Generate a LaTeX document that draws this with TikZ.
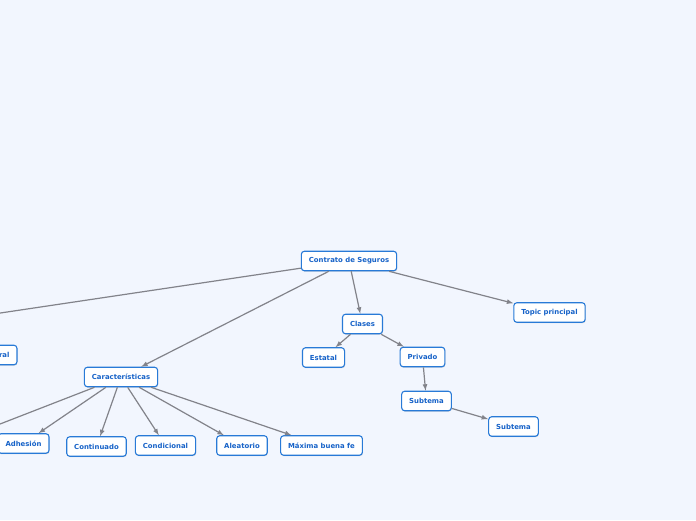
\documentclass[tikz,border=0pt]{standalone}
\usepackage{tikz}
\usepackage{fontspec}
\setsansfont{DejaVu Sans}
\usetikzlibrary{shapes,arrows,positioning,shadows}
\definecolor{mapbg}{RGB}{242,246,254}
\definecolor{topicline}{RGB}{40,122,215}
\definecolor{topictext}{RGB}{22,98,200}
\definecolor{branch}{RGB}{130,131,138}

\begin{document}
\begin{tikzpicture}[
    x=1pt, y=-1pt,
    topic/.style={rectangle, draw=topicline, line width=1.1pt, fill=white,
        rounded corners=3pt, text=topictext, minimum height=19.5pt,
        inner xsep=7.5pt, inner ysep=0pt,
        font=\sffamily\bfseries\fontsize{6.9}{8}\selectfont,
        drop shadow={shadow xshift=0.5pt, shadow yshift=-0.9pt, opacity=0.3}},
    edge/.style={-latex, line width=1.2pt, branch},
    stub/.style={-, line width=1.2pt, branch},
]

% Canvas
\useasboundingbox (0,0) rectangle (696,520);
\fill[mapbg] (0,0) rectangle (696,520);
\clip (0,0) rectangle (696,520);

% Central topic
\node[topic] (contrato) at (349,261) {Contrato de Seguros};

% Clases branch
\begin{scope}
    \node[topic] (clases) at (362.5,324) {Clases};
    \node[topic] (estatal) at (323.5,357.5) {Estatal};
    \node[topic] (privado) at (422.5,357) {Privado};
    \node[topic] (subtemaA) at (426.5,401) {Subtema};
    \node[topic] (subtemaB) at (513.5,426.5) {Subtema};

    \draw[edge] (contrato) -- (clases);
    \draw[edge] (clases) -- (estatal);
    \draw[edge] (clases) -- (privado);
    \draw[edge] (privado) -- (subtemaA);
    \draw[edge] (subtemaA) -- (subtemaB);
\end{scope}

% Topic principal
\node[topic] (principal) at (549.5,312.5) {Topic principal};
\draw[edge] (contrato) -- (principal);

% Caracteristicas branch
\begin{scope}
    \node[topic] (caract) at (121,377) {Características};
    \node[topic] (adhesion) at (23.5,443.5) {Adhesión};
    \node[topic] (continuado) at (96.5,446.5) {Continuado};
    \node[topic] (condicional) at (165.5,445.5) {Condicional};
    \node[topic] (aleatorio) at (242,445.5) {Aleatorio};
    \node[topic] (maxima) at (321.5,445.5) {Máxima buena fe};

    \draw[edge] (contrato) -- (caract);
    \draw[edge] (caract) -- (adhesion);
    \draw[edge] (caract) -- (continuado);
    \draw[edge] (caract) -- (condicional);
    \draw[edge] (caract) -- (aleatorio);
    \draw[edge] (caract) -- (maxima);
\end{scope}

% Branches running off the left edge
\coordinate (offA) at (-60,322);
\coordinate (offB) at (-45,441.5);
\node[topic, anchor=east] (general) at (17.5,355) {ral};
\draw[stub] (contrato) -- (offA);
\draw[stub] (caract) -- (offB);

\end{tikzpicture}
\end{document}
